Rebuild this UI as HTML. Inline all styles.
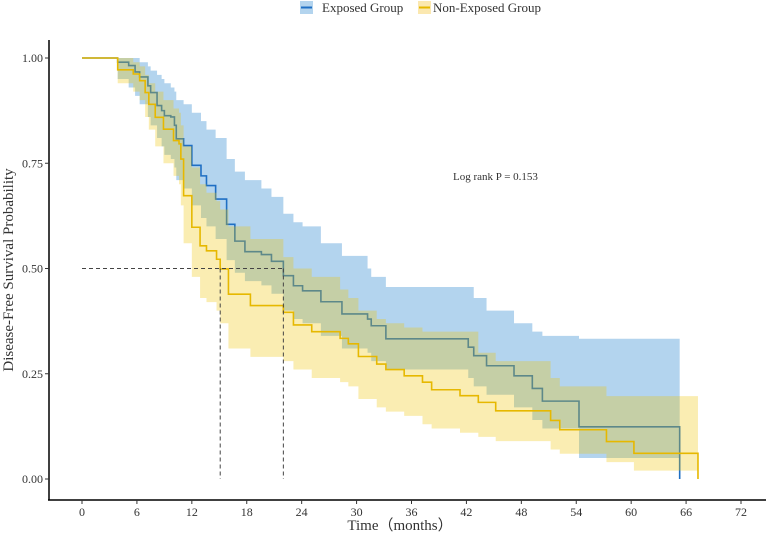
<!DOCTYPE html>
<html><head><meta charset="utf-8"><style>
body{margin:0;background:#fff}
svg text{font-family:"Liberation Serif",serif;fill:#333}
</style></head><body>
<svg id="chart" width="778" height="535">
<g id="legend">
 <g>
  <rect x="300" y="1" width="13" height="13" fill="#b3d4ee"/><line x1="301" y1="7.5" x2="312" y2="7.5" stroke="#1f6fc4" stroke-width="2"/>
  <text x="322" y="12" font-size="13">Exposed Group</text></g>
 <g>
  <rect x="418" y="1" width="13" height="13" fill="#fbe8b0"/><line x1="419" y1="7.5" x2="430" y2="7.5" stroke="#e6b800" stroke-width="2"/>
  <text x="433" y="12" font-size="13">Non-Exposed Group</text></g>
</g>
<g id="plot"></g>
<line x1="49" y1="40" x2="49" y2="500" stroke="#000" stroke-width="1.5"/>
<line x1="48" y1="500" x2="766" y2="500" stroke="#000" stroke-width="1.5"/>
<g id="axes"></g>
<text x="453" y="180" font-size="11">Log rank P = 0.153</text>
<text x="400" y="530" font-size="15" text-anchor="middle" font-family="Liberation Serif, Noto Serif CJK SC, serif">Time（months）</text>
<text transform="translate(13,270) rotate(-90)" font-size="15" text-anchor="middle">Disease-Free Survival Probability</text>
</svg>
<script>
const xTicks=[0,6,12,18,24,30,36,42,48,54,60,66,72];
const yTicks=[0,0.25,0.5,0.75,1];
const yTickLabels=["0.00","0.25","0.50","0.75","1.00"];
const expTime=[0,3.9,5.1,5.8,6.3,7.2,7.5,8.2,8.7,9.0,9.7,10.1,10.3,11.1,12.0,13.0,13.6,14.6,15.8,16.7,17.8,19.6,20.7,22.0,23.1,24.1,26.1,28.4,31.2,31.6,33.2,42.2,42.8,44.2,47.2,49.2,50.3,54.3,65.3];
const expSurv=[1,0.99,0.982,0.967,0.955,0.934,0.918,0.887,0.875,0.863,0.86,0.84,0.808,0.792,0.745,0.72,0.697,0.665,0.605,0.565,0.54,0.533,0.517,0.483,0.459,0.447,0.421,0.392,0.38,0.364,0.333,0.313,0.293,0.269,0.245,0.215,0.185,0.124,0];
const expUpper=[1,1,1,1,0.99,0.98,0.97,0.96,0.95,0.94,0.93,0.92,0.90,0.89,0.87,0.85,0.83,0.81,0.76,0.73,0.71,0.69,0.67,0.63,0.61,0.60,0.56,0.53,0.50,0.48,0.456,0.456,0.43,0.40,0.37,0.35,0.34,0.333,0.333];
const expLower=[1,0.95,0.93,0.91,0.89,0.86,0.84,0.81,0.79,0.77,0.76,0.74,0.71,0.69,0.65,0.62,0.60,0.57,0.52,0.49,0.47,0.46,0.44,0.40,0.38,0.37,0.34,0.31,0.30,0.28,0.26,0.24,0.22,0.20,0.17,0.14,0.12,0.05,0.05];
const nonTime=[0,3.9,5.6,6.3,6.9,7.3,8.0,8.9,10.0,10.6,10.8,11.1,12.0,12.9,13.6,14.7,15.1,16.0,18.4,22.0,23.1,25.1,28.2,29.1,30.2,32.2,33.2,35.2,37.2,38.2,41.3,43.3,45.2,51.2,52.2,57.3,60.3,67.3];
const nonSurv=[1,0.972,0.962,0.946,0.918,0.89,0.859,0.831,0.804,0.796,0.76,0.673,0.598,0.554,0.542,0.522,0.499,0.439,0.412,0.396,0.366,0.35,0.334,0.321,0.291,0.273,0.26,0.245,0.23,0.212,0.198,0.182,0.162,0.139,0.117,0.089,0.061,0];
const nonUpper=[1,1,0.99,0.98,0.96,0.94,0.92,0.90,0.88,0.87,0.84,0.79,0.74,0.70,0.68,0.66,0.64,0.60,0.57,0.527,0.50,0.48,0.45,0.43,0.40,0.38,0.37,0.36,0.35,0.35,0.35,0.30,0.28,0.24,0.22,0.197,0.197,0.197];
const nonLower=[1,0.94,0.92,0.90,0.86,0.83,0.79,0.75,0.72,0.70,0.65,0.56,0.48,0.43,0.42,0.40,0.37,0.31,0.29,0.28,0.26,0.24,0.23,0.22,0.19,0.17,0.16,0.15,0.13,0.12,0.11,0.10,0.09,0.07,0.06,0.04,0.02,0.02];
const medians=[15.1,22.0];
const X=t=>82+t*(741-82)/72, Y=s=>479-s*(479-58)/1;
const NS='http://www.w3.org/2000/svg';
const plot=document.getElementById('plot'), axes=document.getElementById('axes');
function mk(tag,attrs,parent){const e=document.createElementNS(NS,tag);for(const k in attrs)e.setAttribute(k,attrs[k]);parent.appendChild(e);return e;}
function stepPath(t,s){let d='M'+X(t[0])+','+Y(s[0]);for(let i=1;i<t.length;i++){d+='H'+X(t[i])+'V'+Y(s[i]);}return d;}
function band(t,u,l){const end=t[t.length-1];let d='M'+X(t[0])+','+Y(u[0]);for(let i=1;i<t.length;i++){d+='H'+X(t[i])+'V'+Y(u[i]);}
 let back='H'+X(end)+'V'+Y(l[l.length-1]);for(let i=t.length-1;i>=1;i--){back+='H'+X(t[i])+'V'+Y(l[i-1]);}return d+back+'H'+X(t[0])+'Z';}
let e;
e=mk('path',{d:band(expTime,expUpper,expLower),fill:'#b3d4ee'},plot);


e=mk('path',{d:stepPath(expTime,expSurv),fill:'none',stroke:'#1f6fc4','stroke-width':1.6},plot);


e=mk('path',{d:band(nonTime,nonUpper,nonLower),fill:'rgba(239,195,0,0.3)'},plot);


e=mk('path',{d:stepPath(nonTime,nonSurv),fill:'none',stroke:'#e6b800','stroke-width':1.6},plot);


e=mk('line',{x1:X(0),x2:X(medians[1]),y1:Y(0.5),y2:Y(0.5),stroke:'#444','stroke-dasharray':'4,3'},plot);


medians.forEach(m=>{const l=mk('line',{x1:X(m),x2:X(m),y1:Y(0.5),y2:Y(0),stroke:'#444','stroke-dasharray':'4,3'},plot);
 
 });
xTicks.forEach(t=>{const l=mk('line',{x1:X(t),x2:X(t),y1:500,y2:504,stroke:'#333'},axes);
 
 
 const tx=mk('text',{x:X(t),y:516,'font-size':12,'text-anchor':'middle'},axes);tx.textContent=t;
 
 });
yTicks.forEach((v,i)=>{const l=mk('line',{x1:45,x2:49,y1:Y(v),y2:Y(v),stroke:'#333'},axes);
 
 
 const tx=mk('text',{x:43,y:Y(v)+4,'font-size':12,'text-anchor':'end'},axes);tx.textContent=yTickLabels[i];
 
 });
</script>
</body></html>
